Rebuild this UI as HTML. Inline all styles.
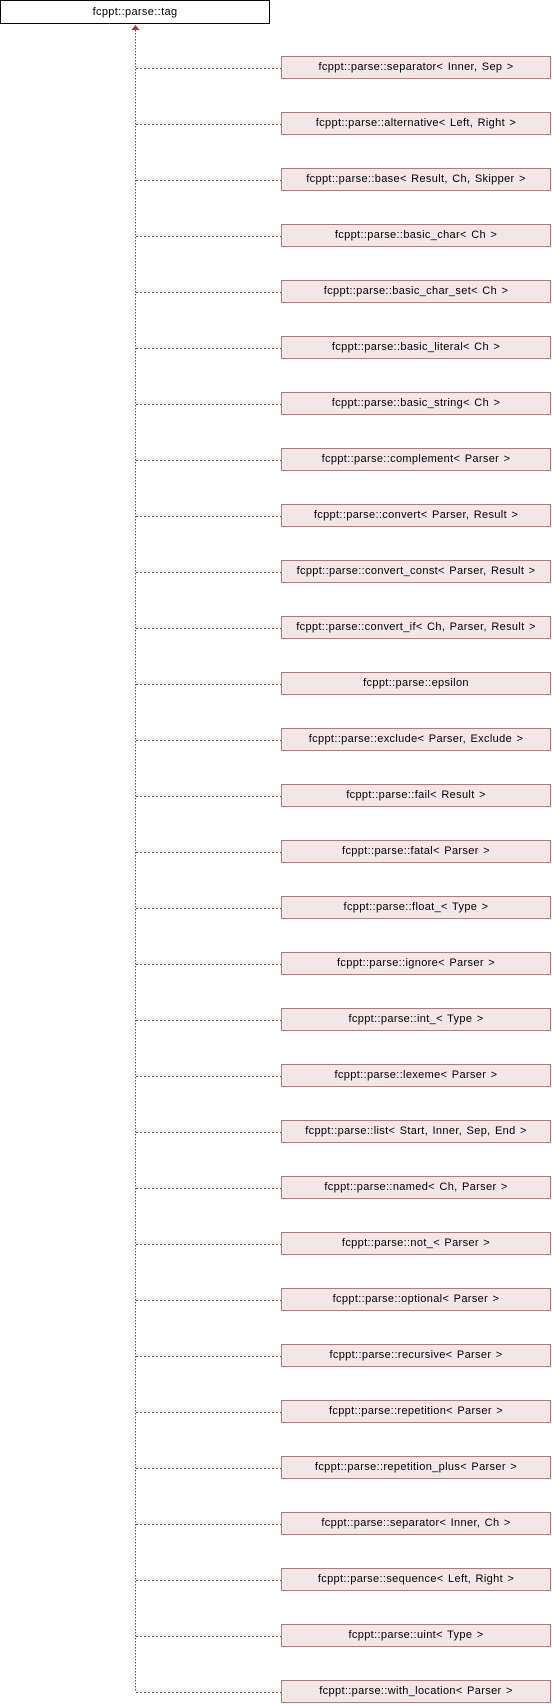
<!DOCTYPE html>
<html><head><meta charset="utf-8"><style>
body{margin:0;width:552px;height:1704px;background:#fff;position:relative;overflow:hidden;font-family:"Liberation Sans",Arial,sans-serif;}
.b{position:absolute;left:281px;width:268px;height:21px;border:1px solid #c37070;background:#f2e6e6;font-size:11px;letter-spacing:0.35px;word-spacing:1px;line-height:21px;text-align:center;color:#000;white-space:nowrap;}
.t{position:absolute;left:0;top:0;width:268px;height:22px;border:1px solid #000;background:#fff;font-size:11px;letter-spacing:0.35px;line-height:22px;text-align:center;white-space:nowrap;}
svg{position:absolute;left:0;top:0;}
</style></head><body>
<svg width="552" height="1704">
<line x1="135.5" y1="30" x2="135.5" y2="1692" stroke="#a33" stroke-width="1" stroke-dasharray="1.5,1.5"/>
<polygon points="135.5,25 131.5,30 139.5,30" fill="#a33"/>
<g id="h" stroke="#a33" stroke-width="1" stroke-dasharray="2,2"></g>
</svg>
<div class="t">fcppt::parse::tag</div>
<div id="c"></div>
<script>
var n=["fcppt::parse::separator&lt; Inner, Sep &gt;","fcppt::parse::alternative&lt; Left, Right &gt;","fcppt::parse::base&lt; Result, Ch, Skipper &gt;","fcppt::parse::basic_char&lt; Ch &gt;","fcppt::parse::basic_char_set&lt; Ch &gt;","fcppt::parse::basic_literal&lt; Ch &gt;","fcppt::parse::basic_string&lt; Ch &gt;","fcppt::parse::complement&lt; Parser &gt;","fcppt::parse::convert&lt; Parser, Result &gt;","fcppt::parse::convert_const&lt; Parser, Result &gt;","fcppt::parse::convert_if&lt; Ch, Parser, Result &gt;","fcppt::parse::epsilon","fcppt::parse::exclude&lt; Parser, Exclude &gt;","fcppt::parse::fail&lt; Result &gt;","fcppt::parse::fatal&lt; Parser &gt;","fcppt::parse::float_&lt; Type &gt;","fcppt::parse::ignore&lt; Parser &gt;","fcppt::parse::int_&lt; Type &gt;","fcppt::parse::lexeme&lt; Parser &gt;","fcppt::parse::list&lt; Start, Inner, Sep, End &gt;","fcppt::parse::named&lt; Ch, Parser &gt;","fcppt::parse::not_&lt; Parser &gt;","fcppt::parse::optional&lt; Parser &gt;","fcppt::parse::recursive&lt; Parser &gt;","fcppt::parse::repetition&lt; Parser &gt;","fcppt::parse::repetition_plus&lt; Parser &gt;","fcppt::parse::separator&lt; Inner, Ch &gt;","fcppt::parse::sequence&lt; Left, Right &gt;","fcppt::parse::uint&lt; Type &gt;","fcppt::parse::with_location&lt; Parser &gt;"];
var h="",g="";
for(var i=0;i<n.length;i++){var y=56+i*56;h+='<div class="b" style="top:'+y+'px">'+n[i]+'</div>';g+='<line x1="136" y1="'+(y+12.5)+'" x2="281" y2="'+(y+12.5)+'"/>';}
document.getElementById('c').innerHTML=h;document.getElementById('h').innerHTML=g;
</script>
</body></html>
